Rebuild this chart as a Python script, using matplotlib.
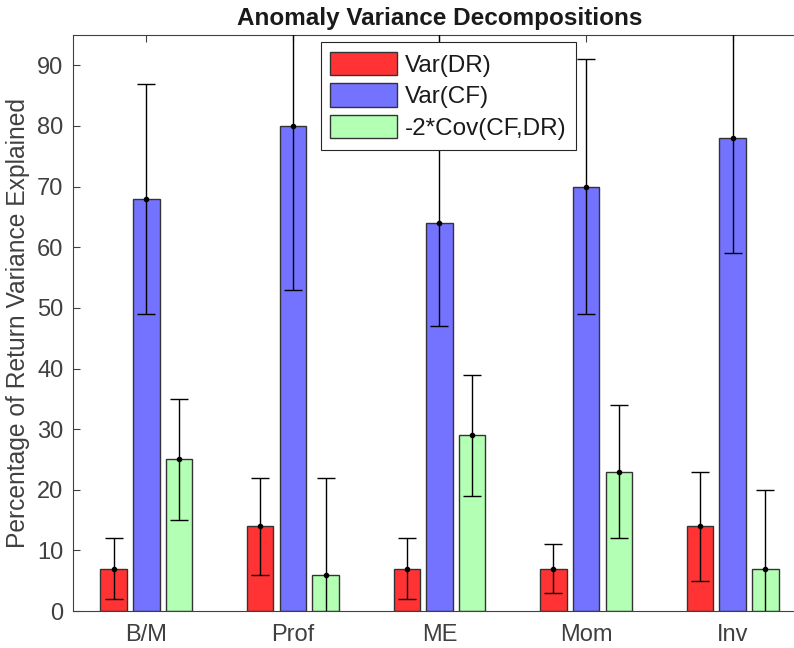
import numpy as np
import matplotlib
matplotlib.use("Agg")
import matplotlib.pyplot as plt

plt.rcParams["font.family"] = ["Liberation Sans", "DejaVu Sans"]

categories = ["B/M", "Prof", "ME", "Mom", "Inv"]
series = ["Var(DR)", "Var(CF)", "-2*Cov(CF,DR)"]
colors = ["#FF3333", "#7373FF", "#B3FFB3"]

var_dr = [7, 14, 7, 7, 14]
var_dr_lo = [2, 6, 2, 3, 5]
var_dr_hi = [12, 22, 12, 11, 23]

var_cf = [68, 80, 64, 70, 78]
var_cf_lo = [49, 53, 47, 49, 59]
var_cf_hi = [87, 107, 100, 91, 97]

cov = [25, 6, 29, 23, 7]
cov_lo = [15, -10, 19, 12, -6]
cov_hi = [35, 22, 39, 34, 20]

values = [var_dr, var_cf, cov]
lows = [var_dr_lo, var_cf_lo, cov_lo]
highs = [var_dr_hi, var_cf_hi, cov_hi]

fig = plt.figure(figsize=(7.94, 6.48), dpi=100)
ax = fig.add_axes([0.092, 0.057, 0.923, 0.889])

x = np.arange(1, len(categories) + 1)
offsets = [-0.223, 0.0, 0.223]
width = 0.18
grey = "#404040"

for vals, lo, hi, off, col, name in zip(values, lows, highs, offsets, colors, series):
    vals = np.array(vals, dtype=float)
    err = np.vstack([vals - np.array(lo), np.array(hi) - vals])
    ax.bar(x + off, vals, width, color=col, edgecolor="#333333", linewidth=1.0,
           label=name, zorder=2)
    ax.errorbar(x + off, vals, yerr=err, fmt="o", color="black", ms=3,
                elinewidth=1.0, capsize=6.5, capthick=1.0, zorder=3)

ax.set_xlim(0.5, 5.5)
ax.set_ylim(0, 95)
ax.set_xticks(x)
ax.set_xticklabels(categories)
ax.set_yticks(np.arange(0, 91, 10))
ax.tick_params(direction="in", top=True, right=True, labelsize=17,
               colors=grey, length=5, width=0.8)
ax.tick_params(axis="x", pad=9)
ax.tick_params(axis="y", pad=7)
for s in ax.spines.values():
    s.set_color(grey)
    s.set_linewidth(0.8)

ax.set_ylabel("Percentage of Return Variance Explained", fontsize=17.7, color=grey,
              labelpad=5)
ax.set_title("Anomaly Variance Decompositions", fontsize=17.5, fontweight="bold",
             color="#1a1a1a", pad=7)

leg = ax.legend(loc="upper left", bbox_to_anchor=(0.338, 0.988), fontsize=17.5,
                fancybox=False, edgecolor="#262626", framealpha=1,
                handlelength=2.75, handleheight=1.1, borderpad=0.4,
                labelspacing=0.28, handletextpad=0.3, borderaxespad=0)
leg.get_frame().set_linewidth(0.8)
for t in leg.get_texts():
    t.set_color("#1a1a1a")

fig.savefig("out.png", dpi=100)
